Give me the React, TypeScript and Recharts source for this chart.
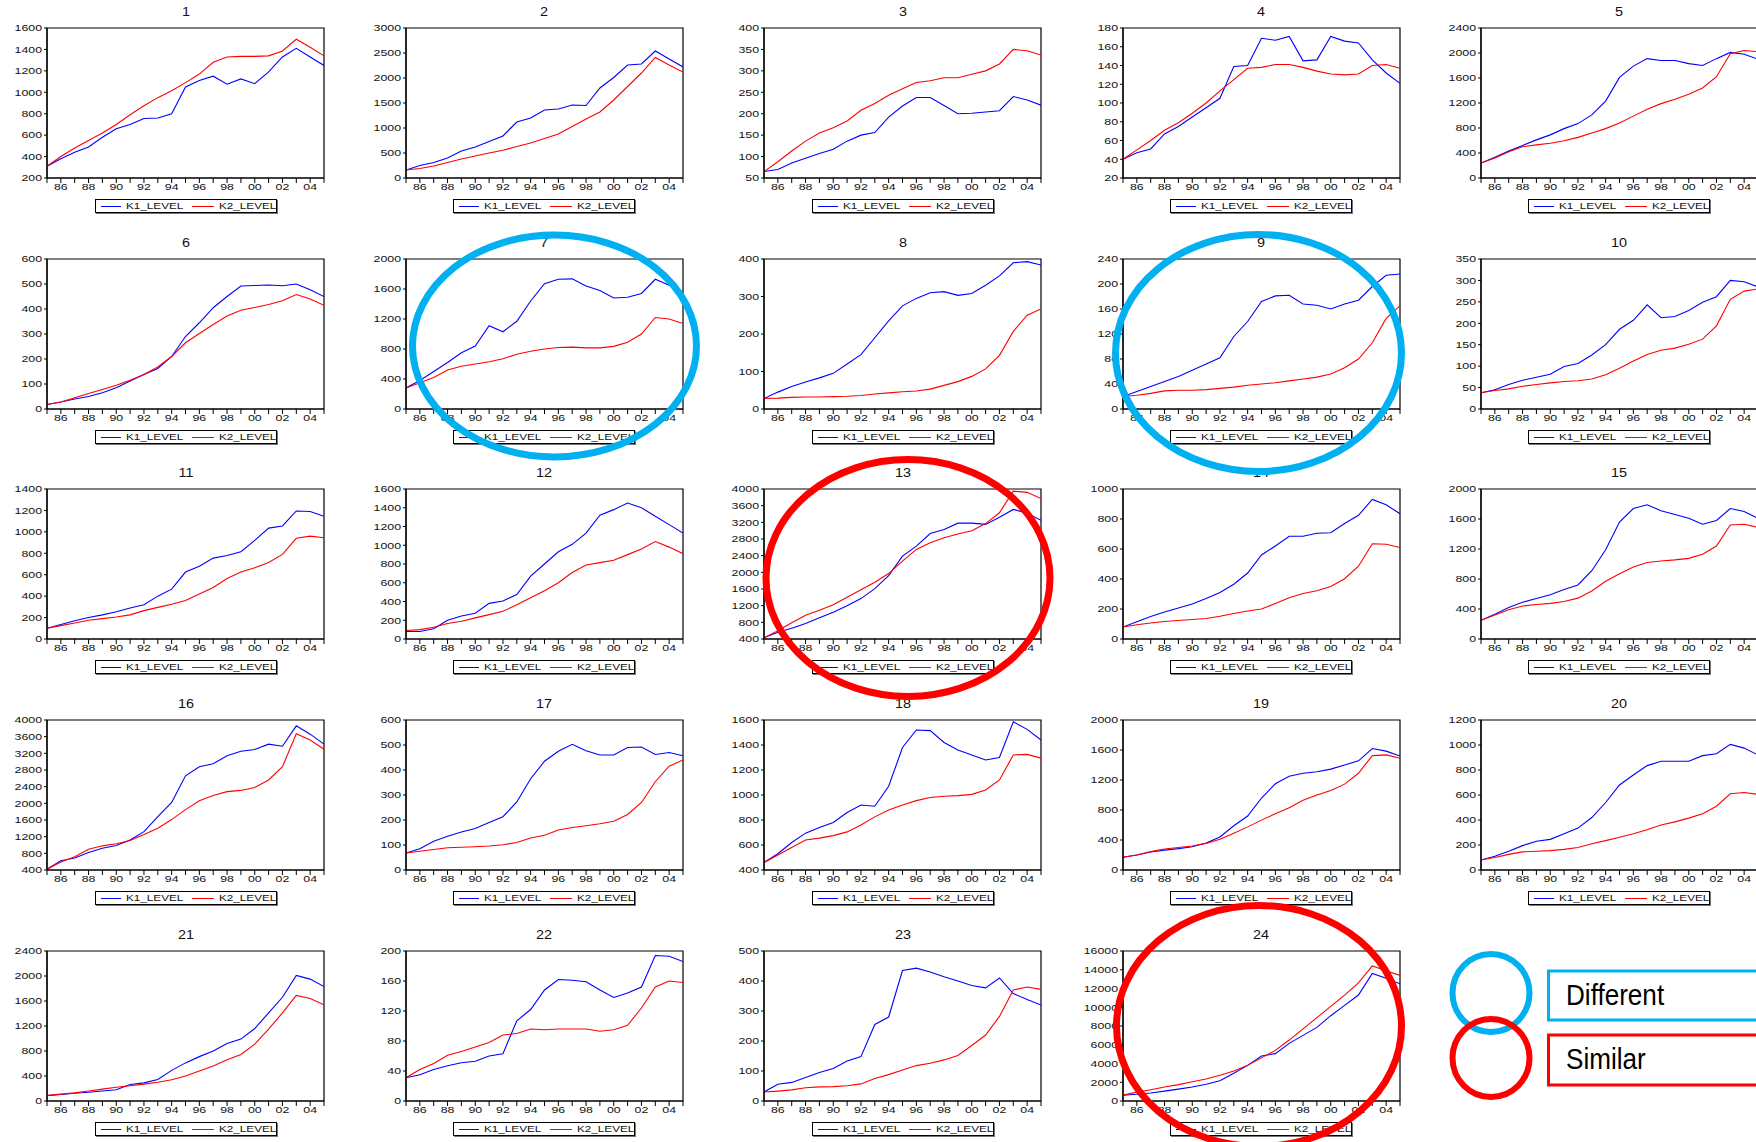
import React from 'react';
import { LineChart, Line, XAxis, YAxis, Legend, ReferenceArea } from 'recharts';

// ---------- data ----------
const YEARS = [1985, 1986, 1987, 1988, 1989, 1990, 1991, 1992, 1993, 1994, 1995, 1996, 1997, 1998, 1999, 2000, 2001, 2002, 2003, 2004, 2005];
const SERIES_NAMES = ['K1_LEVEL', 'K2_LEVEL'];
const PANEL_TITLES = ['1', '2', '3', '4', '5', '6', '7', '8', '9', '10', '11', '12', '13', '14', '15', '16', '17', '18', '19', '20', '21', '22', '23', '24'];

const P1_K1 = [310, 380, 440, 490, 580, 660, 700, 755, 760, 800, 1050, 1110, 1150, 1075, 1125, 1080, 1190, 1330, 1410, 1330, 1250];
const P1_K2 = [310, 400, 480, 550, 620, 700, 790, 875, 950, 1015, 1090, 1170, 1280, 1330, 1335, 1335, 1340, 1385, 1495, 1420, 1340];
const P2_K1 = [160, 250, 310, 400, 540, 620, 730, 840, 1120, 1200, 1360, 1380, 1460, 1450, 1800, 2010, 2260, 2280, 2540, 2380, 2220];
const P2_K2 = [160, 190, 240, 310, 380, 440, 500, 555, 630, 700, 790, 880, 1030, 1180, 1320, 1560, 1830, 2100, 2410, 2260, 2120];
const P3_K1 = [65, 70, 85, 96, 107, 117, 136, 150, 156, 192, 218, 238, 238, 219, 200, 201, 204, 207, 240, 232, 220];
const P3_K2 = [65, 88, 113, 136, 155, 167, 183, 208, 224, 243, 258, 273, 277, 284, 284, 292, 300, 316, 350, 347, 337];
const P4_K1 = [40, 47, 51, 67, 75, 85, 95, 105, 139, 140, 169, 167, 171, 145, 146, 171, 166, 164, 146, 132, 121];
const P4_K2 = [40, 50, 60, 71, 79, 89, 100, 113, 125, 137, 138, 141, 141, 138, 134, 131, 130, 131, 140, 141, 137];
const P5_K1 = [240, 330, 430, 520, 610, 690, 790, 870, 1010, 1230, 1610, 1790, 1910, 1880, 1880, 1830, 1800, 1910, 2010, 1980, 1900];
const P5_K2 = [240, 320, 420, 500, 530, 555, 595, 650, 720, 790, 880, 990, 1100, 1190, 1260, 1340, 1440, 1620, 1990, 2040, 2020];
const P6_K1 = [18, 28, 40, 50, 65, 85, 112, 138, 162, 210, 290, 345, 405, 450, 492, 494, 496, 493, 500, 477, 450];
const P6_K2 = [18, 28, 45, 62, 78, 95, 115, 138, 168, 210, 265, 302, 338, 372, 395, 406, 418, 433, 458, 440, 415];
const P7_K1 = [280, 380, 500, 620, 750, 840, 1110, 1030, 1170, 1440, 1670, 1730, 1735, 1640, 1580, 1480, 1490, 1540, 1730, 1650, 1560];
const P7_K2 = [280, 350, 420, 520, 570, 600, 630, 670, 730, 770, 800, 820, 825, 815, 815, 835, 890, 1000, 1220, 1200, 1140];
const P8_K1 = [28, 45, 60, 72, 83, 95, 120, 145, 190, 235, 275, 295, 310, 313, 303, 308, 330, 355, 390, 393, 384];
const P8_K2 = [28, 29, 31, 32, 32, 33, 34, 36, 40, 43, 46, 48, 53, 63, 73, 87, 107, 143, 207, 250, 267];
const P9_K1 = [20, 28, 36, 44, 52, 62, 72, 82, 116, 140, 172, 181, 182, 168, 166, 160, 168, 174, 196, 214, 216];
const P9_K2 = [20, 22, 25, 29, 30, 30, 31, 33, 35, 38, 40, 42, 45, 48, 51, 56, 66, 80, 106, 145, 165];
const P10_K1 = [38, 45, 57, 67, 74, 81, 99, 106, 126, 150, 186, 207, 243, 213, 216, 230, 249, 262, 300, 297, 285];
const P10_K2 = [38, 43, 47, 53, 57, 61, 64, 66, 70, 80, 95, 112, 127, 137, 142, 151, 163, 194, 256, 275, 280];
const P11_K1 = [100, 135, 170, 200, 225, 255, 290, 320, 400, 465, 625, 680, 755, 780, 815, 920, 1035, 1055, 1195, 1190, 1145];
const P11_K2 = [100, 125, 150, 175, 190, 205, 225, 265, 295, 325, 360, 420, 480, 565, 625, 665, 715, 790, 940, 960, 945];
const P12_K1 = [80, 80, 110, 200, 245, 275, 380, 405, 475, 670, 800, 930, 1010, 1130, 1320, 1380, 1450, 1400, 1310, 1220, 1130];
const P12_K2 = [90, 100, 125, 165, 190, 225, 260, 295, 365, 440, 515, 600, 710, 790, 815, 840, 900, 960, 1040, 980, 910];
const P13_K1 = [430, 560, 660, 770, 910, 1040, 1200, 1370, 1610, 1920, 2390, 2630, 2930, 3030, 3180, 3180, 3150, 3320, 3510, 3420, 3250];
const P13_K2 = [430, 600, 790, 970, 1090, 1220, 1400, 1580, 1760, 1970, 2270, 2550, 2710, 2830, 2920, 3000, 3170, 3430, 3950, 3920, 3770];
const P14_K1 = [80, 115, 150, 180, 207, 233, 270, 310, 365, 440, 560, 620, 685, 685, 705, 708, 770, 825, 930, 895, 835];
const P14_K2 = [80, 95, 107, 117, 123, 130, 137, 152, 170, 187, 200, 237, 275, 303, 322, 350, 402, 485, 635, 632, 610];
const P15_K1 = [250, 330, 420, 490, 540, 590, 660, 720, 910, 1190, 1560, 1740, 1790, 1710, 1660, 1610, 1530, 1580, 1740, 1700, 1610];
const P15_K2 = [250, 320, 390, 440, 460, 475, 500, 545, 640, 770, 870, 960, 1020, 1040, 1055, 1075, 1130, 1240, 1520, 1530, 1490];
const P16_K1 = [420, 620, 690, 820, 920, 990, 1120, 1320, 1680, 2020, 2660, 2880, 2950, 3140, 3250, 3290, 3420, 3370, 3860, 3660, 3420];
const P16_K2 = [420, 590, 720, 900, 980, 1030, 1110, 1250, 1400, 1610, 1850, 2060, 2190, 2280, 2310, 2380, 2560, 2880, 3670, 3520, 3300];
const P17_K1 = [68, 85, 115, 135, 152, 166, 190, 213, 272, 365, 435, 475, 503, 477, 460, 460, 490, 492, 462, 470, 457];
const P17_K2 = [68, 75, 82, 89, 91, 93, 96, 101, 110, 128, 139, 160, 170, 177, 185, 195, 222, 270, 353, 415, 440];
const P18_K1 = [460, 530, 620, 695, 740, 780, 860, 920, 910, 1070, 1380, 1520, 1515, 1420, 1360, 1320, 1280, 1300, 1585, 1525, 1440];
const P18_K2 = [460, 520, 580, 640, 655, 675, 705, 760, 825, 880, 920, 955, 980, 990, 995, 1005, 1040, 1120, 1320, 1325, 1295];
const P19_K1 = [170, 200, 240, 265, 285, 310, 360, 440, 590, 720, 960, 1150, 1250, 1290, 1310, 1345, 1400, 1455, 1620, 1585, 1520];
const P19_K2 = [170, 200, 245, 280, 300, 320, 355, 410, 490, 575, 665, 750, 830, 930, 1000, 1060, 1145, 1290, 1525, 1535, 1490];
const P20_K1 = [80, 110, 150, 195, 230, 245, 290, 335, 420, 540, 680, 760, 835, 870, 870, 870, 915, 930, 1005, 975, 920];
const P20_K2 = [80, 100, 125, 145, 150, 155, 165, 180, 210, 235, 262, 290, 322, 360, 385, 415, 450, 510, 610, 620, 605];
const P21_K1 = [85, 105, 125, 140, 160, 180, 265, 290, 345, 490, 610, 710, 800, 920, 990, 1160, 1410, 1660, 2010, 1950, 1830];
const P21_K2 = [90, 110, 130, 160, 190, 220, 245, 270, 300, 340, 400, 480, 560, 660, 745, 910, 1150, 1410, 1690, 1640, 1540];
const P22_K1 = [31, 35, 42, 47, 51, 53, 60, 63, 107, 122, 148, 162, 161, 159, 148, 138, 144, 152, 194, 193, 186];
const P22_K2 = [31, 42, 50, 61, 66, 72, 78, 88, 90, 96, 95, 96, 96, 96, 93, 95, 101, 124, 152, 160, 158];
const P23_K1 = [30, 56, 62, 78, 95, 108, 133, 148, 255, 280, 435, 443, 430, 414, 400, 385, 377, 410, 358, 338, 320];
const P23_K2 = [30, 33, 37, 44, 47, 48, 51, 57, 75, 88, 103, 118, 126, 137, 152, 185, 220, 282, 370, 380, 372];
const P24_K1 = [620, 720, 860, 1050, 1270, 1500, 1780, 2150, 2950, 3800, 4800, 5050, 6150, 7000, 7850, 9100, 10200, 11300, 13600, 13100, 12500];
const P24_K2 = [620, 950, 1200, 1500, 1750, 2050, 2350, 2750, 3200, 3800, 4600, 5400, 6500, 7700, 8900, 10100, 11300, 12600, 14400, 13900, 13400];

// y-axis tick labels per panel
const T1 = [200, 400, 600, 800, 1000, 1200, 1400, 1600];
const T2 = [0, 500, 1000, 1500, 2000, 2500, 3000];
const T3 = [50, 100, 150, 200, 250, 300, 350, 400];
const T4 = [20, 40, 60, 80, 100, 120, 140, 160, 180];
const T5 = [0, 400, 800, 1200, 1600, 2000, 2400];
const T6 = [0, 100, 200, 300, 400, 500, 600];
const T7 = [0, 400, 800, 1200, 1600, 2000];
const T8 = [0, 100, 200, 300, 400];
const T9 = [0, 40, 80, 120, 160, 200, 240];
const T10 = [0, 50, 100, 150, 200, 250, 300, 350];
const T11 = [0, 200, 400, 600, 800, 1000, 1200, 1400];
const T12 = [0, 200, 400, 600, 800, 1000, 1200, 1400, 1600];
const T13 = [400, 800, 1200, 1600, 2000, 2400, 2800, 3200, 3600, 4000];
const T14 = [0, 200, 400, 600, 800, 1000];
const T15 = [0, 400, 800, 1200, 1600, 2000];
const T16 = [400, 800, 1200, 1600, 2000, 2400, 2800, 3200, 3600, 4000];
const T17 = [0, 100, 200, 300, 400, 500, 600];
const T18 = [400, 600, 800, 1000, 1200, 1400, 1600];
const T19 = [0, 400, 800, 1200, 1600, 2000];
const T20 = [0, 200, 400, 600, 800, 1000, 1200];
const T21 = [0, 400, 800, 1200, 1600, 2000, 2400];
const T22 = [0, 40, 80, 120, 160, 200];
const T23 = [0, 100, 200, 300, 400, 500];
const T24 = [0, 2000, 4000, 6000, 8000, 10000, 12000, 14000, 16000];

const K1_SERIES = [P1_K1, P2_K1, P3_K1, P4_K1, P5_K1, P6_K1, P7_K1, P8_K1, P9_K1, P10_K1, P11_K1, P12_K1, P13_K1, P14_K1, P15_K1, P16_K1, P17_K1, P18_K1, P19_K1, P20_K1, P21_K1, P22_K1, P23_K1, P24_K1];
const K2_SERIES = [P1_K2, P2_K2, P3_K2, P4_K2, P5_K2, P6_K2, P7_K2, P8_K2, P9_K2, P10_K2, P11_K2, P12_K2, P13_K2, P14_K2, P15_K2, P16_K2, P17_K2, P18_K2, P19_K2, P20_K2, P21_K2, P22_K2, P23_K2, P24_K2];
const TICK_SETS = [T1, T2, T3, T4, T5, T6, T7, T8, T9, T10, T11, T12, T13, T14, T15, T16, T17, T18, T19, T20, T21, T22, T23, T24];

// annotation labels
const ANNOT_DIFFERENT = 'Different';
const ANNOT_SIMILAR = 'Similar';

// ---------- layout ----------
const PAGE_W = 1756;
const PAGE_H = 1142;
const COL_X0 = 47.3;
const COL_STEP = 358.4;
const ROW_Y0 = 27.7;
const ROW_STEP = 230.8;
const PLOT_W = 277;
const PLOT_H = 150;
const YAXIS_W = 46;
const MARGIN_TOP = 4;
const XAXIS_H = 21;
const LEGEND_H = 14;
const LEGEND_W = 182;
const MARGIN_BOTTOM = 2;
const CHART_W = 358;
const CHART_H = MARGIN_TOP + PLOT_H + XAXIS_H + LEGEND_H + MARGIN_BOTTOM;
const MARGIN_RIGHT = CHART_W - YAXIS_W - PLOT_W;
const FONT = '"Liberation Sans", Arial, Helvetica, sans-serif';
const BLUE = '#0000ff';
const RED = '#ff0000';
const CYAN = '#00b0f0';

function YTick(props: any) {
  const { x, y, payload } = props;
  return (
    <g transform={`translate(${x},${y})`}>
      <text x={0} y={0} dy="0.35em" textAnchor="end" fontSize={9.5} fontFamily={FONT} fill="#111" transform="scale(1.3,1)">
        {payload.value}
      </text>
    </g>
  );
}

function XTick(props: any) {
  const { x, y, payload } = props;
  const v = Number(payload.value);
  if (v % 2 !== 0) return <g />;
  return (
    <g transform={`translate(${x},${y})`}>
      <text x={0} y={0} dy="0.72em" textAnchor="middle" fontSize={9.5} fontFamily={FONT} fill="#111" transform="scale(1.3,1)">
        {String(v).slice(2)}
      </text>
    </g>
  );
}

function LegendBox() {
  const txt: React.CSSProperties = {
    position: 'absolute',
    top: 1,
    fontSize: 9,
    lineHeight: '10px',
    fontFamily: FONT,
    color: '#111',
    whiteSpace: 'nowrap',
    transform: 'scale(1.3,1)',
    transformOrigin: 'left center',
  };
  return (
    <div
      style={{
        position: 'relative',
        width: LEGEND_W,
        height: LEGEND_H,
        boxSizing: 'border-box',
        border: '1px solid #000',
        boxShadow: '1px 1px 0 #777',
        background: '#fff',
      }}
    >
      <div style={{ position: 'absolute', left: 5, top: 6, width: 20, height: 1, background: BLUE }} />
      <span style={{ ...txt, left: 30 }}>{SERIES_NAMES[0]}</span>
      <div style={{ position: 'absolute', left: 96, top: 6, width: 22, height: 1, background: RED }} />
      <span style={{ ...txt, left: 123 }}>{SERIES_NAMES[1]}</span>
    </div>
  );
}

function Panel({ index }: { index: number }) {
  const col = index % 5;
  const row = Math.floor(index / 5);
  const plotLeft = COL_X0 + col * COL_STEP;
  const plotTop = ROW_Y0 + row * ROW_STEP;
  const ticks = TICK_SETS[index];
  const k1 = K1_SERIES[index];
  const k2 = K2_SERIES[index];
  const data = YEARS.map((yr, i) => ({ year: yr, k1: k1[i], k2: k2[i] }));
  const domain: [number, number] = [ticks[0], ticks[ticks.length - 1]];
  const xDomain: [number, number] = [YEARS[0], YEARS[YEARS.length - 1]];
  const legendLeft = YAXIS_W + PLOT_W / 2 - LEGEND_W / 2;
  return (
    <>
      <div
        style={{
          position: 'absolute',
          left: plotLeft + PLOT_W / 2 - 40,
          width: 80,
          top: plotTop - 24,
          height: 16,
          textAlign: 'center',
          fontFamily: FONT,
          fontSize: 12,
          lineHeight: '16px',
          color: '#111',
          transform: 'scale(1.2,1)',
        }}
      >
        {PANEL_TITLES[index]}
      </div>
      <div style={{ position: 'absolute', left: plotLeft - YAXIS_W, top: plotTop - MARGIN_TOP, width: CHART_W, height: CHART_H }}>
        <LineChart
          width={CHART_W}
          height={CHART_H}
          data={data}
          margin={{ top: MARGIN_TOP, right: MARGIN_RIGHT, bottom: MARGIN_BOTTOM, left: 0 }}
        >
          <XAxis
            dataKey="year"
            type="number"
            domain={xDomain}
            ticks={YEARS}
            interval={0}
            height={XAXIS_H}
            tickSize={5}
            tickMargin={0}
            tick={<XTick />}
            axisLine={{ stroke: '#000', strokeWidth: 1.2 }}
            tickLine={{ stroke: '#000' }}
            allowDataOverflow
          />
          <YAxis
            type="number"
            domain={domain}
            ticks={ticks}
            interval={0}
            width={YAXIS_W}
            tickSize={3}
            tickMargin={2}
            tick={<YTick />}
            axisLine={{ stroke: '#000', strokeWidth: 1.2 }}
            tickLine={{ stroke: '#000' }}
            allowDataOverflow
          />
          <ReferenceArea
            x1={xDomain[0]}
            x2={xDomain[1]}
            y1={domain[0]}
            y2={domain[1]}
            fill="none"
            fillOpacity={0}
            stroke="#000"
            strokeWidth={1.2}
            ifOverflow="visible"
          />
          <Legend
            verticalAlign="bottom"
            align="left"
            content={() => <LegendBox />}
            wrapperStyle={{ left: legendLeft, bottom: MARGIN_BOTTOM, width: LEGEND_W, height: LEGEND_H }}
          />
          <Line
            type="linear"
            dataKey="k1"
            name={SERIES_NAMES[0]}
            stroke={BLUE}
            strokeWidth={1.1}
            dot={false}
            activeDot={false}
            isAnimationActive={false}
          />
          <Line
            type="linear"
            dataKey="k2"
            name={SERIES_NAMES[1]}
            stroke={RED}
            strokeWidth={1.1}
            dot={false}
            activeDot={false}
            isAnimationActive={false}
          />
        </LineChart>
      </div>
    </>
  );
}

function Annotations() {
  return (
    <svg
      width={PAGE_W}
      height={PAGE_H}
      style={{ position: 'absolute', left: 0, top: 0, pointerEvents: 'none' }}
    >
      <ellipse cx={554.5} cy={346} rx={142} ry={111} fill="none" stroke={CYAN} strokeWidth={7} />
      <ellipse cx={1258.5} cy={353} rx={143} ry={118.5} fill="none" stroke={CYAN} strokeWidth={7} />
      <ellipse cx={908} cy={578} rx={142} ry={118.5} fill="none" stroke={RED} strokeWidth={7} />
      <ellipse cx={1259} cy={1026} rx={142.5} ry={120.5} fill="none" stroke={RED} strokeWidth={7} />

      <ellipse cx={1491} cy={993} rx={38.5} ry={39} fill="none" stroke={CYAN} strokeWidth={6} />
      <ellipse cx={1491} cy={1058} rx={38.5} ry={39} fill="none" stroke={RED} strokeWidth={6} />

      <rect x={1548.5} y={971} width={230} height={49} fill="#fff" stroke={CYAN} strokeWidth={3} />
      <rect x={1548.5} y={1035} width={230} height={50} fill="#fff" stroke={RED} strokeWidth={3} />
      <text x={0} y={0} fontFamily={FONT} fontSize={29} fill="#000" transform="translate(1566,1005) scale(0.9,1)">
        {ANNOT_DIFFERENT}
      </text>
      <text x={0} y={0} fontFamily={FONT} fontSize={29} fill="#000" transform="translate(1566,1069) scale(0.9,1)">
        {ANNOT_SIMILAR}
      </text>
    </svg>
  );
}

export default function App() {
  return (
    <div
      style={{
        position: 'absolute',
        left: 0,
        top: 0,
        width: PAGE_W,
        height: PAGE_H,
        overflow: 'hidden',
        background: '#fff',
      }}
    >
      {PANEL_TITLES.map((_, i) => (
        <Panel key={i} index={i} />
      ))}
      <Annotations />
    </div>
  );
}
